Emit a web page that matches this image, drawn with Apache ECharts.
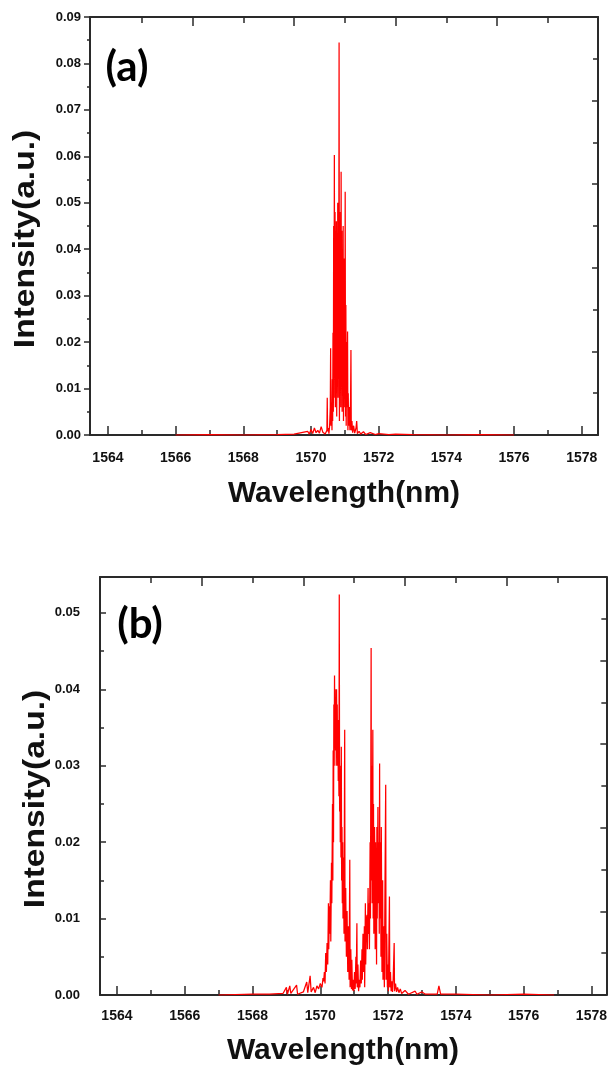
<!DOCTYPE html>
<html>
<head>
<meta charset="utf-8">
<script src="https://cdn.jsdelivr.net/npm/echarts@6/dist/echarts.min.js"></script>
<style>
html,body{margin:0;padding:0;background:#fff;}
#chart{width:610px;height:1065px;}
</style>
</head>
<body>
<div id="chart"></div>
<script>
// ---------- data: panel (a) ----------
const wavelengthA = [
  1566.0, 1567.0, 1568.0, 1569.0, 1569.5, 1569.9, 1569.95, 1570.0, 1570.05, 1570.1,
  1570.15, 1570.2, 1570.25, 1570.3, 1570.35, 1570.38, 1570.42, 1570.45, 1570.47, 1570.48,
  1570.49, 1570.51, 1570.53, 1570.55, 1570.57, 1570.58, 1570.59, 1570.61, 1570.62, 1570.63,
  1570.64, 1570.65, 1570.66, 1570.67, 1570.68, 1570.69, 1570.70, 1570.71, 1570.72, 1570.73,
  1570.74, 1570.75, 1570.76, 1570.77, 1570.78, 1570.79, 1570.80, 1570.81, 1570.82, 1570.83,
  1570.84, 1570.85, 1570.86, 1570.87, 1570.88, 1570.89, 1570.90, 1570.91, 1570.92, 1570.93,
  1570.94, 1570.95, 1570.96, 1570.97, 1570.98, 1570.99, 1571.00, 1571.01, 1571.02, 1571.03,
  1571.04, 1571.05, 1571.06, 1571.07, 1571.08, 1571.09, 1571.10, 1571.11, 1571.13, 1571.15,
  1571.17, 1571.18, 1571.19, 1571.21, 1571.23, 1571.26, 1571.29, 1571.33, 1571.35, 1571.37,
  1571.42, 1571.47, 1571.55, 1571.62, 1571.75, 1571.9, 1572.0, 1572.3, 1572.5, 1573.0,
  1574.0, 1575.0, 1576.0
];
const intensityA = [
  0.0000, 0.0001, 0.0000, 0.0001, 0.0002, 0.0008, 0.0002, 0.0012, 0.0003, 0.0015,
  0.0005, 0.0010, 0.0004, 0.0018, 0.0006, 0.0010, 0.0002, 0.0004, 0.0010, 0.0080,
  0.0008, 0.0015, 0.0003, 0.0020, 0.0060, 0.0187, 0.0020, 0.0070, 0.0010, 0.0120,
  0.0030, 0.0220, 0.0050, 0.0450, 0.0080, 0.0603, 0.0150, 0.0480, 0.0060, 0.0440,
  0.0200, 0.0460, 0.0040, 0.0420, 0.0150, 0.0500, 0.0080, 0.0450, 0.0250, 0.0845,
  0.0030, 0.0480, 0.0120, 0.0450, 0.0060, 0.0567, 0.0180, 0.0440, 0.0050, 0.0400,
  0.0100, 0.0450, 0.0030, 0.0380, 0.0150, 0.0300, 0.0060, 0.0524, 0.0040, 0.0280,
  0.0020, 0.0200, 0.0060, 0.0120, 0.0223, 0.0010, 0.0090, 0.0020, 0.0060, 0.0010,
  0.0080, 0.0183, 0.0010, 0.0030, 0.0005, 0.0020, 0.0004, 0.0015, 0.0030, 0.0003,
  0.0008, 0.0002, 0.0007, 0.0001, 0.0005, 0.0001, 0.0003, 0.0001, 0.0002, 0.0001,
  0.0000, 0.0001, 0.0000
];

// ---------- data: panel (b) ----------
const wavelengthB = [
  1567.0, 1568.0, 1568.5, 1568.9, 1569.0, 1569.03, 1569.1, 1569.13, 1569.3, 1569.33,
  1569.5, 1569.6, 1569.63, 1569.7, 1569.73, 1569.8, 1569.85, 1569.9, 1569.95, 1570.0,
  1570.05, 1570.08, 1570.10, 1570.12, 1570.14, 1570.16, 1570.18, 1570.20, 1570.22, 1570.24,
  1570.25, 1570.27, 1570.28, 1570.30, 1570.31, 1570.33, 1570.34, 1570.36, 1570.37, 1570.38,
  1570.39, 1570.40, 1570.41, 1570.42, 1570.43, 1570.44, 1570.45, 1570.46, 1570.47, 1570.48,
  1570.49, 1570.50, 1570.51, 1570.52, 1570.53, 1570.54, 1570.55, 1570.56, 1570.57, 1570.58,
  1570.59, 1570.60, 1570.61, 1570.62, 1570.63, 1570.64, 1570.65, 1570.66, 1570.67, 1570.68,
  1570.70, 1570.72, 1570.73, 1570.75, 1570.77, 1570.79, 1570.81, 1570.83, 1570.85, 1570.87,
  1570.88, 1570.90, 1570.92, 1570.93, 1570.95, 1570.97, 1570.99, 1571.01, 1571.03, 1571.05,
  1571.06, 1571.08, 1571.09, 1571.11, 1571.13, 1571.15, 1571.17, 1571.19, 1571.21, 1571.23,
  1571.24, 1571.26, 1571.27, 1571.29, 1571.30, 1571.31, 1571.33, 1571.34, 1571.36, 1571.38,
  1571.39, 1571.41, 1571.42, 1571.44, 1571.45, 1571.47, 1571.48, 1571.50, 1571.51, 1571.52,
  1571.53, 1571.55, 1571.56, 1571.57, 1571.58, 1571.60, 1571.61, 1571.62, 1571.63, 1571.64,
  1571.65, 1571.66, 1571.67, 1571.68, 1571.70, 1571.71, 1571.73, 1571.74, 1571.75, 1571.76,
  1571.78, 1571.79, 1571.80, 1571.82, 1571.84, 1571.85, 1571.87, 1571.89, 1571.91, 1571.93,
  1571.94, 1571.96, 1571.98, 1571.99, 1572.01, 1572.04, 1572.05, 1572.07, 1572.09, 1572.11,
  1572.13, 1572.15, 1572.18, 1572.19, 1572.22, 1572.25, 1572.28, 1572.32, 1572.36, 1572.40,
  1572.5, 1572.6, 1572.8, 1572.85, 1573.0, 1573.1, 1573.45, 1573.5, 1573.55, 1574.0,
  1575.0, 1576.0, 1576.9
];
const intensityB = [
  0.0000, 0.0001, 0.0001, 0.0002, 0.0010, 0.0001, 0.0012, 0.0002, 0.0013, 0.0001,
  0.0004, 0.0017, 0.0003, 0.0025, 0.0004, 0.0010, 0.0003, 0.0012, 0.0008, 0.0015,
  0.0010, 0.0022, 0.0018, 0.0030, 0.0015, 0.0055, 0.0030, 0.0068, 0.0040, 0.0120,
  0.0060, 0.0116, 0.0080, 0.0150, 0.0070, 0.0173, 0.0120, 0.0250, 0.0150, 0.0320,
  0.0200, 0.0380, 0.0300, 0.0418, 0.0330, 0.0400, 0.0320, 0.0390, 0.0300, 0.0400,
  0.0340, 0.0380, 0.0300, 0.0360, 0.0280, 0.0330, 0.0260, 0.0524, 0.0240, 0.0300,
  0.0200, 0.0270, 0.0180, 0.0325, 0.0150, 0.0220, 0.0120, 0.0200, 0.0100, 0.0180,
  0.0080, 0.0347, 0.0070, 0.0140, 0.0050, 0.0110, 0.0030, 0.0090, 0.0020, 0.0177,
  0.0010, 0.0060, 0.0008, 0.0046, 0.0006, 0.0020, 0.0005, 0.0030, 0.0008, 0.0050,
  0.0015, 0.0094, 0.0010, 0.0040, 0.0005, 0.0020, 0.0010, 0.0045, 0.0015, 0.0060,
  0.0020, 0.0080, 0.0030, 0.0050, 0.0090, 0.0010, 0.0120, 0.0040, 0.0100, 0.0105,
  0.0060, 0.0140, 0.0080, 0.0120, 0.0060, 0.0200, 0.0100, 0.0454, 0.0150, 0.0300,
  0.0120, 0.0347, 0.0100, 0.0250, 0.0080, 0.0220, 0.0180, 0.0060, 0.0200, 0.0120,
  0.0150, 0.0040, 0.0220, 0.0100, 0.0246, 0.0120, 0.0200, 0.0080, 0.0303, 0.0100,
  0.0200, 0.0050, 0.0220, 0.0030, 0.0150, 0.0020, 0.0090, 0.0010, 0.0150, 0.0275,
  0.0020, 0.0080, 0.0010, 0.0040, 0.0005, 0.0129, 0.0010, 0.0030, 0.0005, 0.0018,
  0.0004, 0.0020, 0.0068, 0.0005, 0.0015, 0.0004, 0.0010, 0.0003, 0.0008, 0.0002,
  0.0006, 0.0001, 0.0005, 0.0001, 0.0004, 0.0001, 0.0001, 0.0012, 0.0001, 0.0001,
  0.0000, 0.0001, 0.0000
];

// ---------- tick values ----------
const xMajorTicks = [1564, 1566, 1568, 1570, 1572, 1574, 1576, 1578];
const xMinorTicks = [1565, 1567, 1569, 1571, 1573, 1575, 1577];
const topLongTicks = [1566.5, 1569.5, 1572.5, 1575.5];
const topShortTicks = [1565, 1568, 1571, 1574, 1577];
const yTicksA = [0, 0.01, 0.02, 0.03, 0.04, 0.05, 0.06, 0.07, 0.08, 0.09];
const yMinorA = [0.005, 0.015, 0.025, 0.035, 0.045, 0.055, 0.065, 0.075, 0.085];
const yTicksB = [0, 0.01, 0.02, 0.03, 0.04, 0.05];
const yMinorB = [0.005, 0.015, 0.025, 0.035, 0.045];
const rightLongTicks = [2, 4, 6, 8];
const rightShortTicks = [1, 3, 5, 7, 9];

const xTitle = 'Wavelength(nm)';
const yTitle = 'Intensity(a.u.)';
const panelLabels = ['(a)', '(b)'];

// ---------- build ----------
const AX = '#2a2a2a';
const FONT = "'Liberation Sans', Arial, sans-serif";

function xAx(grid, pos, min, max, ticks, len, opts) {
  opts = opts || {};
  return {
    type: 'value', gridIndex: grid, position: pos, min: min, max: max,
    axisLine: {show: !!opts.line, onZero: false, lineStyle: {color: AX, width: 2}},
    axisTick: {show: true, inside: true, length: len, customValues: ticks, lineStyle: {color: AX, width: 1.5}},
    axisLabel: opts.labels ? {show: true, customValues: ticks, margin: opts.margin, color: '#111',
      fontFamily: FONT, fontWeight: 'bold', fontSize: 14, formatter: v => String(Math.round(v))} : {show: false},
    splitLine: {show: false}
  };
}
function yAx(grid, pos, min, max, ticks, len, inside, opts) {
  opts = opts || {};
  return {
    type: 'value', gridIndex: grid, position: pos, min: min, max: max,
    axisLine: {show: !!opts.line, onZero: false, lineStyle: {color: AX, width: 2}},
    axisTick: {show: true, inside: inside, length: len, customValues: ticks, lineStyle: {color: AX, width: 1.5}},
    axisLabel: opts.labels ? {show: true, customValues: ticks, margin: opts.margin, color: '#111',
      fontFamily: FONT, fontWeight: 'bold', fontSize: 13, formatter: v => v.toFixed(2)} : {show: false},
    splitLine: {show: false}
  };
}

const rA = [1563.47, 1578.48];
const rB = [1563.5, 1578.44];
const yMaxB = 0.0547;

const option = {
  animation: false,
  backgroundColor: '#ffffff',
  grid: [
    {left: 90, top: 17, width: 508, height: 418},
    {left: 100, top: 577, width: 508, height: 418}
  ],
  xAxis: [
    xAx(0, 'bottom', rA[0], rA[1], xMajorTicks, 9, {line: true, labels: true, margin: 16}),
    xAx(0, 'bottom', rA[0], rA[1], xMinorTicks, 5),
    xAx(0, 'top', rA[0], rA[1], topLongTicks, 9, {line: true}),
    xAx(0, 'top', rA[0], rA[1], topShortTicks, 6),
    xAx(1, 'bottom', rB[0], rB[1], xMajorTicks, 9, {line: true, labels: true, margin: 14}),
    xAx(1, 'bottom', rB[0], rB[1], xMinorTicks, 5),
    xAx(1, 'top', rB[0], rB[1], topLongTicks, 9, {line: true}),
    xAx(1, 'top', rB[0], rB[1], topShortTicks, 6)
  ],
  yAxis: [
    yAx(0, 'left', 0, 0.09, yTicksA, 6, false, {line: true, labels: true, margin: 9}),
    yAx(0, 'left', 0, 0.09, yMinorA, 3, false),
    yAx(0, 'right', 0, 10, rightLongTicks, 6, true, {line: true}),
    yAx(0, 'right', 0, 10, rightShortTicks, 5, true),
    yAx(1, 'left', 0, yMaxB, yTicksB, 6, true, {line: true, labels: true, margin: 20}),
    yAx(1, 'left', 0, yMaxB, yMinorB, 4, true),
    yAx(1, 'right', 0, 10, rightLongTicks, 6, true, {line: true}),
    yAx(1, 'right', 0, 10, rightShortTicks, 5, true)
  ],
  series: [
    {
      type: 'line', xAxisIndex: 0, yAxisIndex: 0, showSymbol: false, symbol: 'none',
      clip: true, sampling: null, z: 1,
      lineStyle: {color: '#ff0000', width: 1.25},
      data: wavelengthA.map((w, i) => [w, intensityA[i]])
    },
    {
      type: 'line', xAxisIndex: 4, yAxisIndex: 4, showSymbol: false, symbol: 'none',
      clip: true, sampling: null, z: 1,
      lineStyle: {color: '#ff0000', width: 1.25},
      data: wavelengthB.map((w, i) => [w, intensityB[i]])
    }
  ],
  graphic: [
    {type: 'text', x: 344, y: 494, style: {text: xTitle, font: "bold 30px " + FONT, fill: '#111', textAlign: 'center', textVerticalAlign: 'middle'}},
    {type: 'text', x: 343, y: 1051, style: {text: xTitle, font: "bold 30px " + FONT, fill: '#111', textAlign: 'center', textVerticalAlign: 'middle'}},
    {type: 'text', x: 26, y: 239, rotation: Math.PI / 2, scaleX: 1.12, style: {text: yTitle, font: "bold 30px " + FONT, fill: '#111', textAlign: 'center', textVerticalAlign: 'middle'}},
    {type: 'text', x: 36, y: 799, rotation: Math.PI / 2, scaleX: 1.12, style: {text: yTitle, font: "bold 30px " + FONT, fill: '#111', textAlign: 'center', textVerticalAlign: 'middle'}},
    {type: 'text', x: 127, y: 67, style: {text: panelLabels[0], font: "bold 42px Lato, 'Open Sans', sans-serif", fill: '#000', textAlign: 'center', textVerticalAlign: 'middle'}},
    {type: 'text', x: 140, y: 624, style: {text: panelLabels[1], font: "bold 42px Lato, 'Open Sans', sans-serif", fill: '#000', textAlign: 'center', textVerticalAlign: 'middle'}}
  ]
};

const chart = echarts.init(document.getElementById('chart'), null, {renderer: 'canvas'});
chart.setOption(option);
</script>
</body>
</html>
